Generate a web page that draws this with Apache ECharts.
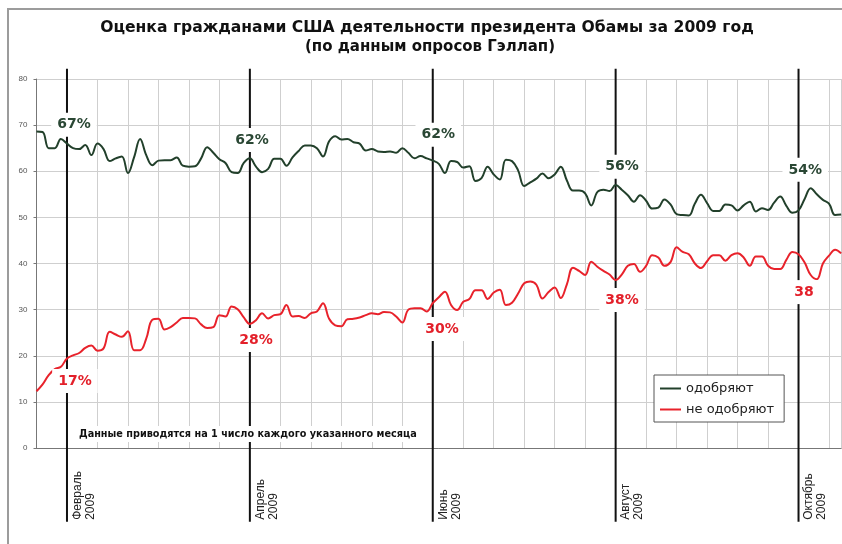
<!DOCTYPE html>
<html><head><meta charset="utf-8">
<script src="https://cdn.jsdelivr.net/npm/echarts@6/dist/echarts.min.js"></script>
<style>html,body{margin:0;padding:0;background:#fff}#c{width:842px;height:544px}</style>
</head><body><div id="c"></div>
<script>
const titleText = 'Оценка гражданами США деятельности президента Обамы за 2009 год';
const subtitleText = '(по данным опросов Гэллап)';
const noteText = 'Данные приводятся на 1 число каждого указанного месяца';
const seriesNames = ['одобряют', 'не одобряют'];
const yTicks = [0, 10, 20, 30, 40, 50, 60, 70, 80];

// poll points (about every 2 days, starting 21.01.2009)
const approve = [
  68.6, 68.5, 65.0, 65.0, 67.0, 66.0, 65.0, 64.8, 65.7, 63.5,
  66.0, 64.8, 62.2, 62.8, 63.2, 59.6, 63.0, 67.0, 63.5, 61.3,
  62.3, 62.4, 62.4, 63.0, 61.2, 61.0, 61.1, 62.8, 65.2, 64.0,
  62.6, 61.8, 59.8, 59.6, 61.8, 62.8, 61.0, 59.8, 60.5, 62.7,
  62.7, 61.2, 63.0, 64.4, 65.6, 65.6, 65.0, 63.2, 66.5, 67.6,
  66.9, 67.0, 66.3, 66.0, 64.5, 64.8, 64.3, 64.2, 64.3, 64.0,
  65.0, 64.0, 62.8, 63.3, 62.8, 62.3, 61.6, 59.6, 62.2, 62.0,
  60.8, 61.1, 57.9, 58.5, 61.0, 59.3, 58.2, 62.5, 62.2, 60.2,
  56.8, 57.6, 58.4, 59.5, 58.5, 59.3, 61.0, 58.0, 55.8, 55.8,
  55.2, 52.6, 55.5, 56.0, 55.7, 57.0, 56.0, 54.8, 53.4, 54.8,
  53.6, 51.9, 52.1, 53.9, 52.8, 50.7, 50.5, 50.4, 53.0, 54.9,
  53.1, 51.4, 51.4, 52.8, 52.6, 51.5, 52.6, 53.4, 51.3, 52.0,
  51.6, 53.2, 54.5, 52.5, 51.0, 51.5, 54.0, 56.3, 55.0, 53.8,
  53.0, 50.5, 50.6
];
const disapprove = [
  12.3, 13.8, 15.8, 17.1, 17.6, 19.4, 20.1, 20.6, 21.7, 22.2,
  21.1, 21.6, 25.2, 24.6, 24.1, 25.3, 21.2, 21.2, 23.7, 27.8,
  28.0, 25.7, 26.2, 27.2, 28.2, 28.2, 28.1, 26.8, 26.0, 26.2,
  28.8, 28.5, 30.7, 30.1, 28.3, 26.9, 27.7, 29.2, 28.1, 28.8,
  29.0, 31.0, 28.5, 28.6, 28.2, 29.2, 29.6, 31.4, 28.0, 26.6,
  26.4, 27.9, 28.0, 28.3, 28.8, 29.2, 29.0, 29.5, 29.4, 28.5,
  27.2, 30.0, 30.3, 30.3, 29.6, 31.4, 32.7, 33.9, 31.0, 29.9,
  31.7, 32.3, 34.2, 34.2, 32.3, 33.7, 34.3, 31.0, 31.5, 33.5,
  35.7, 36.1, 35.4, 32.4, 33.8, 34.8, 32.5, 35.5, 39.1, 38.4,
  37.5, 40.4, 39.3, 38.4, 37.6, 36.4, 37.6, 39.5, 39.9, 38.2,
  39.5, 41.8, 41.3, 39.5, 40.3, 43.5, 42.5, 42.0, 40.0, 39.0,
  40.5, 41.8, 41.8, 40.6, 41.8, 42.2, 41.3, 39.5, 41.5, 41.5,
  39.5, 38.8, 38.8, 40.8, 42.5, 42.0, 40.2, 37.5, 36.6, 40.0,
  41.7, 43.0, 42.2
];

// month markers (poll index of the 1st of the month)
const monthPos = [5, 35, 65, 95, 125];
const monthLabels = ['Февраль\n2009', 'Апрель\n2009', 'Июнь\n2009', 'Август\n2009', 'Октябрь\n2009'];
const monthLineTop = 82.2, monthLineBottom = -16;

// value callouts
const approveLabels = ['67%', '62%', '62%', '56%', '54%'];
const approveLabelX = [6.15, 35.35, 65.9, 96.05, 126.1];
const approveLabelY = [70.1, 66.8, 67.9, 61.0, 60.3];
const disapproveLabels = ['17%', '28%', '30%', '38%', '38'];
const disapproveLabelX = [6.3, 36.0, 66.5, 96.05, 125.9];
const disapproveLabelY = [14.5, 23.4, 25.8, 32.1, 33.8];

const GREEN = '#22402b', RED = '#e8222b';
const GREEN_TXT = '#2a4734', RED_TXT = '#e3202a';
const chart = echarts.init(document.getElementById('c'));
const lastIdx = approve.length - 1;

function calloutSeries(name, texts, xs, ys, color) {
  return {
    name: name, type: 'custom', clip: false, silent: true, z: 6,
    data: texts.map((t, i) => [xs[i], ys[i], i]),
    renderItem: function (params, api) {
      const p = api.coord([api.value(0), api.value(1)]);
      return {
        type: 'text', x: p[0], y: p[1],
        style: { text: texts[api.value(2)], font: 'bold 14px "DejaVu Sans"', fill: color,
          align: 'center', verticalAlign: 'middle', backgroundColor: '#fff', padding: [5, 6] }
      };
    }
  };
}

chart.setOption({
  animation: false,
  backgroundColor: '#fff',
  grid: { left: 36.5, right: 0.8, top: 79, bottom: 96, containLabel: false },
  graphic: [
    { type: 'rect', shape: { x: 8, y: 9, width: 900, height: 600 }, style: { fill: 'none', stroke: '#9c9c9c', lineWidth: 2 }, z: 100 },
    { type: 'text', x: 427, y: 28, style: { text: titleText, font: 'bold 15.6px "DejaVu Sans"', fill: '#111', align: 'center', verticalAlign: 'middle' }, z: 100 },
    { type: 'text', x: 430, y: 47, style: { text: subtitleText, font: 'bold 15px "DejaVu Sans"', fill: '#111', align: 'center', verticalAlign: 'middle' }, z: 100 },
    { type: 'text', x: 77, y: 434, style: { text: noteText, font: 'bold 9.7px "DejaVu Sans"', fill: '#111', align: 'left', verticalAlign: 'middle', backgroundColor: '#fff', padding: [3, 2] }, z: 100 }
  ],
  legend: {
    orient: 'vertical', left: 654, top: 375,
    padding: [7, 10, 6, 6], itemGap: 8, itemWidth: 21, itemHeight: 2,
    backgroundColor: '#fff', borderColor: '#555', borderWidth: 1, borderRadius: 0,
    textStyle: { fontFamily: 'DejaVu Sans', fontSize: 13, color: '#222' },
    data: seriesNames.map(n => ({ name: n, icon: 'rect' }))
  },
  xAxis: {
    type: 'value', min: 0, max: lastIdx, interval: 5,
    axisLine: { show: true, onZero: false, lineStyle: { color: '#777', width: 1 } },
    axisTick: { show: false },
    axisLabel: { show: false },
    splitLine: { show: true, lineStyle: { color: '#cfcfcf', width: 1 } }
  },
  yAxis: {
    type: 'value', min: 0, max: 80, interval: 10, offset: 3,
    axisLine: { show: true, lineStyle: { color: '#777', width: 1 } },
    axisTick: { show: true, length: 3, lineStyle: { color: '#777' } },
    axisLabel: { fontSize: 8, color: '#555', fontFamily: 'Liberation Sans', margin: 6 },
    splitLine: { show: true, lineStyle: { color: '#cfcfcf', width: 1 } }
  },
  series: [
    {
      name: 'months', type: 'custom', clip: false, silent: true, z: 1,
      data: monthPos.map((p, i) => [p, i]),
      renderItem: function (params, api) {
        const idx = api.value(0);
        const t = api.coord([idx, monthLineTop]);
        const b = api.coord([idx, monthLineBottom]);
        return {
          type: 'group', children: [
            { type: 'line', shape: { x1: t[0], y1: t[1], x2: b[0], y2: b[1] }, style: { stroke: '#111', lineWidth: 2 } },
            { type: 'text', x: b[0] + 4, y: b[1] - 2, rotation: Math.PI / 2,
              style: { text: monthLabels[api.value(1)], font: '12px "Liberation Sans"', fill: '#222', align: 'left', verticalAlign: 'top', lineHeight: 13 } }
          ]
        };
      }
    },
    {
      name: seriesNames[0], type: 'line', z: 3, symbol: 'none', smooth: 0.4,
      data: approve.map((v, i) => [i, v]),
      lineStyle: { color: GREEN, width: 2 }, itemStyle: { color: GREEN }
    },
    {
      name: seriesNames[1], type: 'line', z: 3, symbol: 'none', smooth: 0.4,
      data: disapprove.map((v, i) => [i, v]),
      lineStyle: { color: RED, width: 2 }, itemStyle: { color: RED }
    },
    calloutSeries('approveLabels', approveLabels, approveLabelX, approveLabelY, GREEN_TXT),
    calloutSeries('disapproveLabels', disapproveLabels, disapproveLabelX, disapproveLabelY, RED_TXT)
  ]
});
</script>
</body></html>
